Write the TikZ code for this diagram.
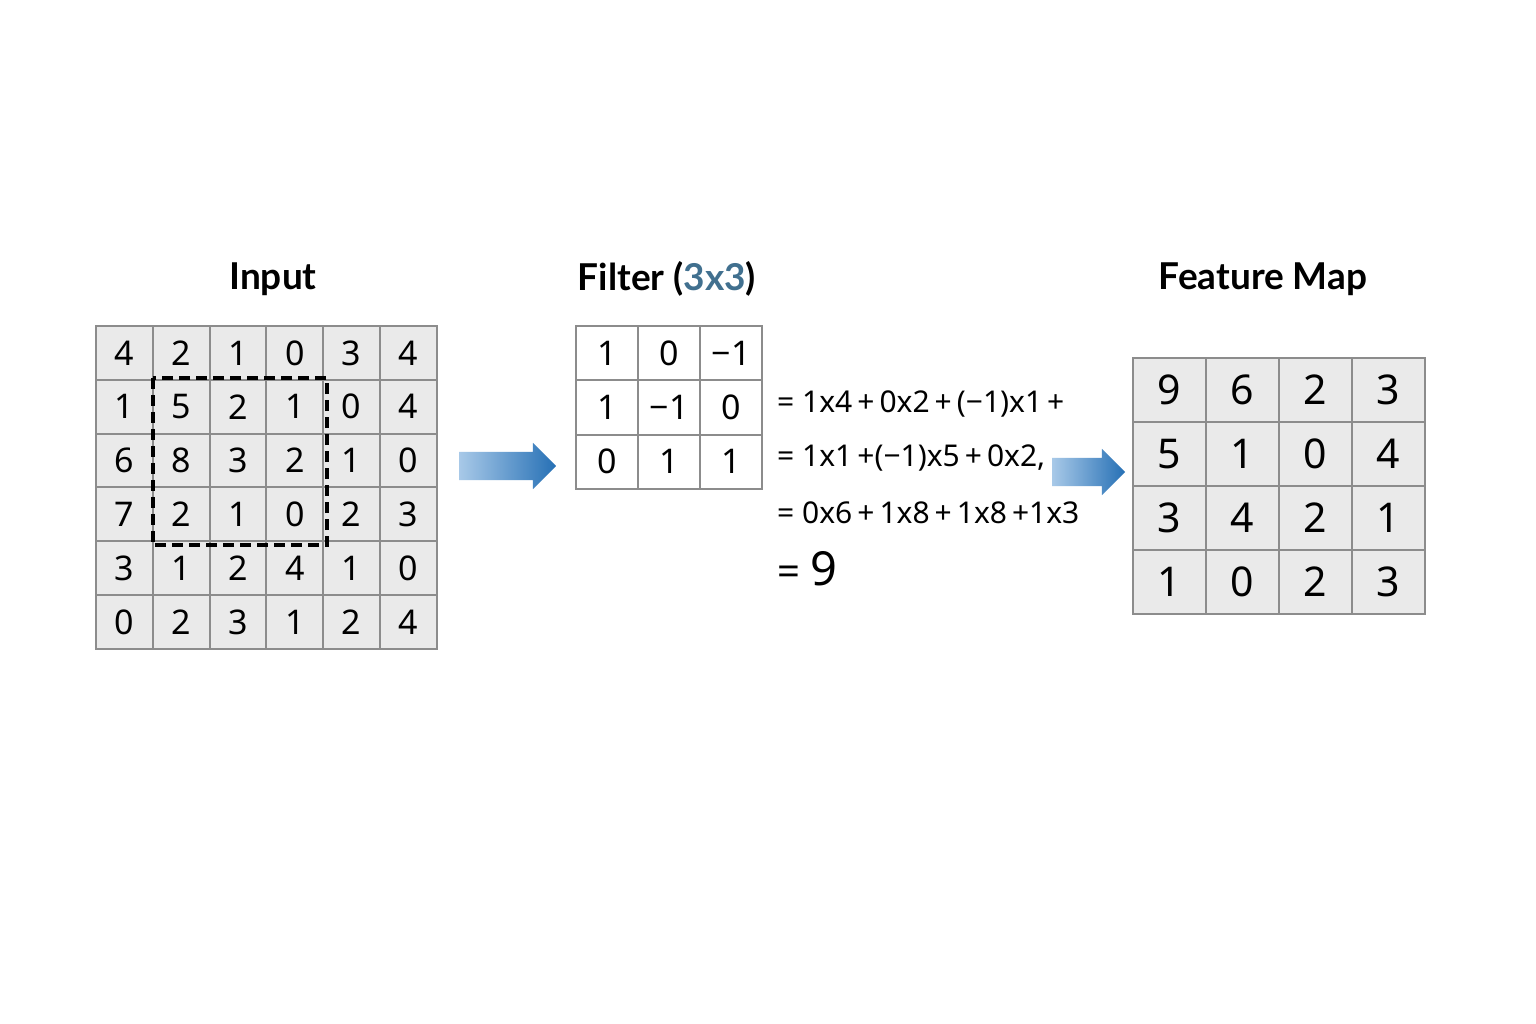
\documentclass[tikz,border=0pt]{standalone}
\usepackage{fontspec}
\setmainfont{Noto Sans}
\newfontfamily\titlefont{Lato}
\usetikzlibrary{shapes.arrows}
\definecolor{cellfill}{HTML}{EAEAEA}
\definecolor{cellline}{HTML}{8C8C8C}
\definecolor{arrowdark}{HTML}{2670B5}
\definecolor{arrowlight}{HTML}{A8C9E8}
\definecolor{dimblue}{HTML}{41708F}
\begin{document}
\begin{tikzpicture}[x=1pt,y=-1pt,
  incell/.style={draw=cellline, fill=cellfill, line width=2pt, minimum width=56.8pt, minimum height=53.8pt, inner sep=0pt, font=\fontsize{34}{40}\selectfont},
  fcell/.style={draw=cellline, fill=white, line width=2pt, minimum width=62pt, minimum height=54.3pt, inner sep=0pt, font=\fontsize{34}{40}\selectfont},
  mcell/.style={draw=cellline, fill=cellfill, line width=2pt, minimum width=73pt, minimum height=64pt, inner sep=0pt, font=\fontsize{41}{48}\selectfont},
  title/.style={font=\titlefont\bfseries\fontsize{37}{44}\selectfont, inner sep=0pt},
  formula/.style={anchor=west, inner sep=0pt, font=\fontsize{30}{36}\selectfont},
  bigarrow/.style={single arrow, single arrow head extend=9pt, single arrow head indent=0pt, inner xsep=0pt, inner ysep=14pt, text height=0pt, text depth=0pt, text width=0pt, shading angle=90, left color=arrowlight, right color=arrowdark, draw=none},
  window/.style={draw=black, line width=3.6pt, dash pattern=on 11pt off 6pt}
]
\fill[white] (0,0) rectangle (1536,1024);
\useasboundingbox (0,0) rectangle (1536,1024);

% titles
\node[title] (tin) at (273,279) {Input};
\node[title] (tfil) at (667,279) {Filter ({\color{dimblue}3x3})};
\node[title] (tmap) at (1263,279) {Feature Map};

% input grid
\foreach \row [count=\r from 0] in {{4,2,1,0,3,4},{1,5,2,1,0,4},{6,8,3,2,1,0},{7,2,1,0,2,3},{3,1,2,4,1,0},{0,2,3,1,2,4}}
  \foreach \v [count=\c from 0] in \row
    \node[incell] (in-\r-\c) at ({96+28.4+56.8*\c},{326+26.9+53.8*\r}) {\v};

\draw[window] ([xshift=1pt,yshift=1pt]in-1-1.north west) rectangle ([xshift=3pt,yshift=-3pt]in-3-3.south east);

% filter grid
\foreach \row [count=\r from 0] in {{1,0,−1},{1,−1,0},{0,1,1}}
  \foreach \v [count=\c from 0] in \row
    \node[fcell] (fi-\r-\c) at ({576+31+62*\c},{326+27.15+54.3*\r}) {\v};

% feature map
\foreach \row [count=\r from 0] in {{9,6,2,3},{5,1,0,4},{3,4,2,1},{1,0,2,3}}
  \foreach \v [count=\c from 0] in \row
    \node[mcell] (fm-\r-\c) at ({1133+36.5+73*\c},{358+32+64*\r}) {\v};

% formulas
\node[formula] (f1) at (777,404) {= 1x4\,+\,0x2\,+\,(−1)x1\,+};
\node[formula] (f2) at (777,458) {= 1x1\,+(−1)x5\,+\,0x2,};
\node[formula] (f3) at (777,513) {= 0x6\,+\,1x8\,+\,1x8\,+1x3};
\node[formula, font=\fontsize{40}{46}\selectfont] (f4) at (777,569) {= \fontsize{47}{52}\selectfont 9};

% arrows
\node[bigarrow, minimum height=97pt] (a1) at (500.5,466) {};
\node[bigarrow, minimum height=73pt] (a2) at (1081.5,472) {};
\end{tikzpicture}
\end{document}
